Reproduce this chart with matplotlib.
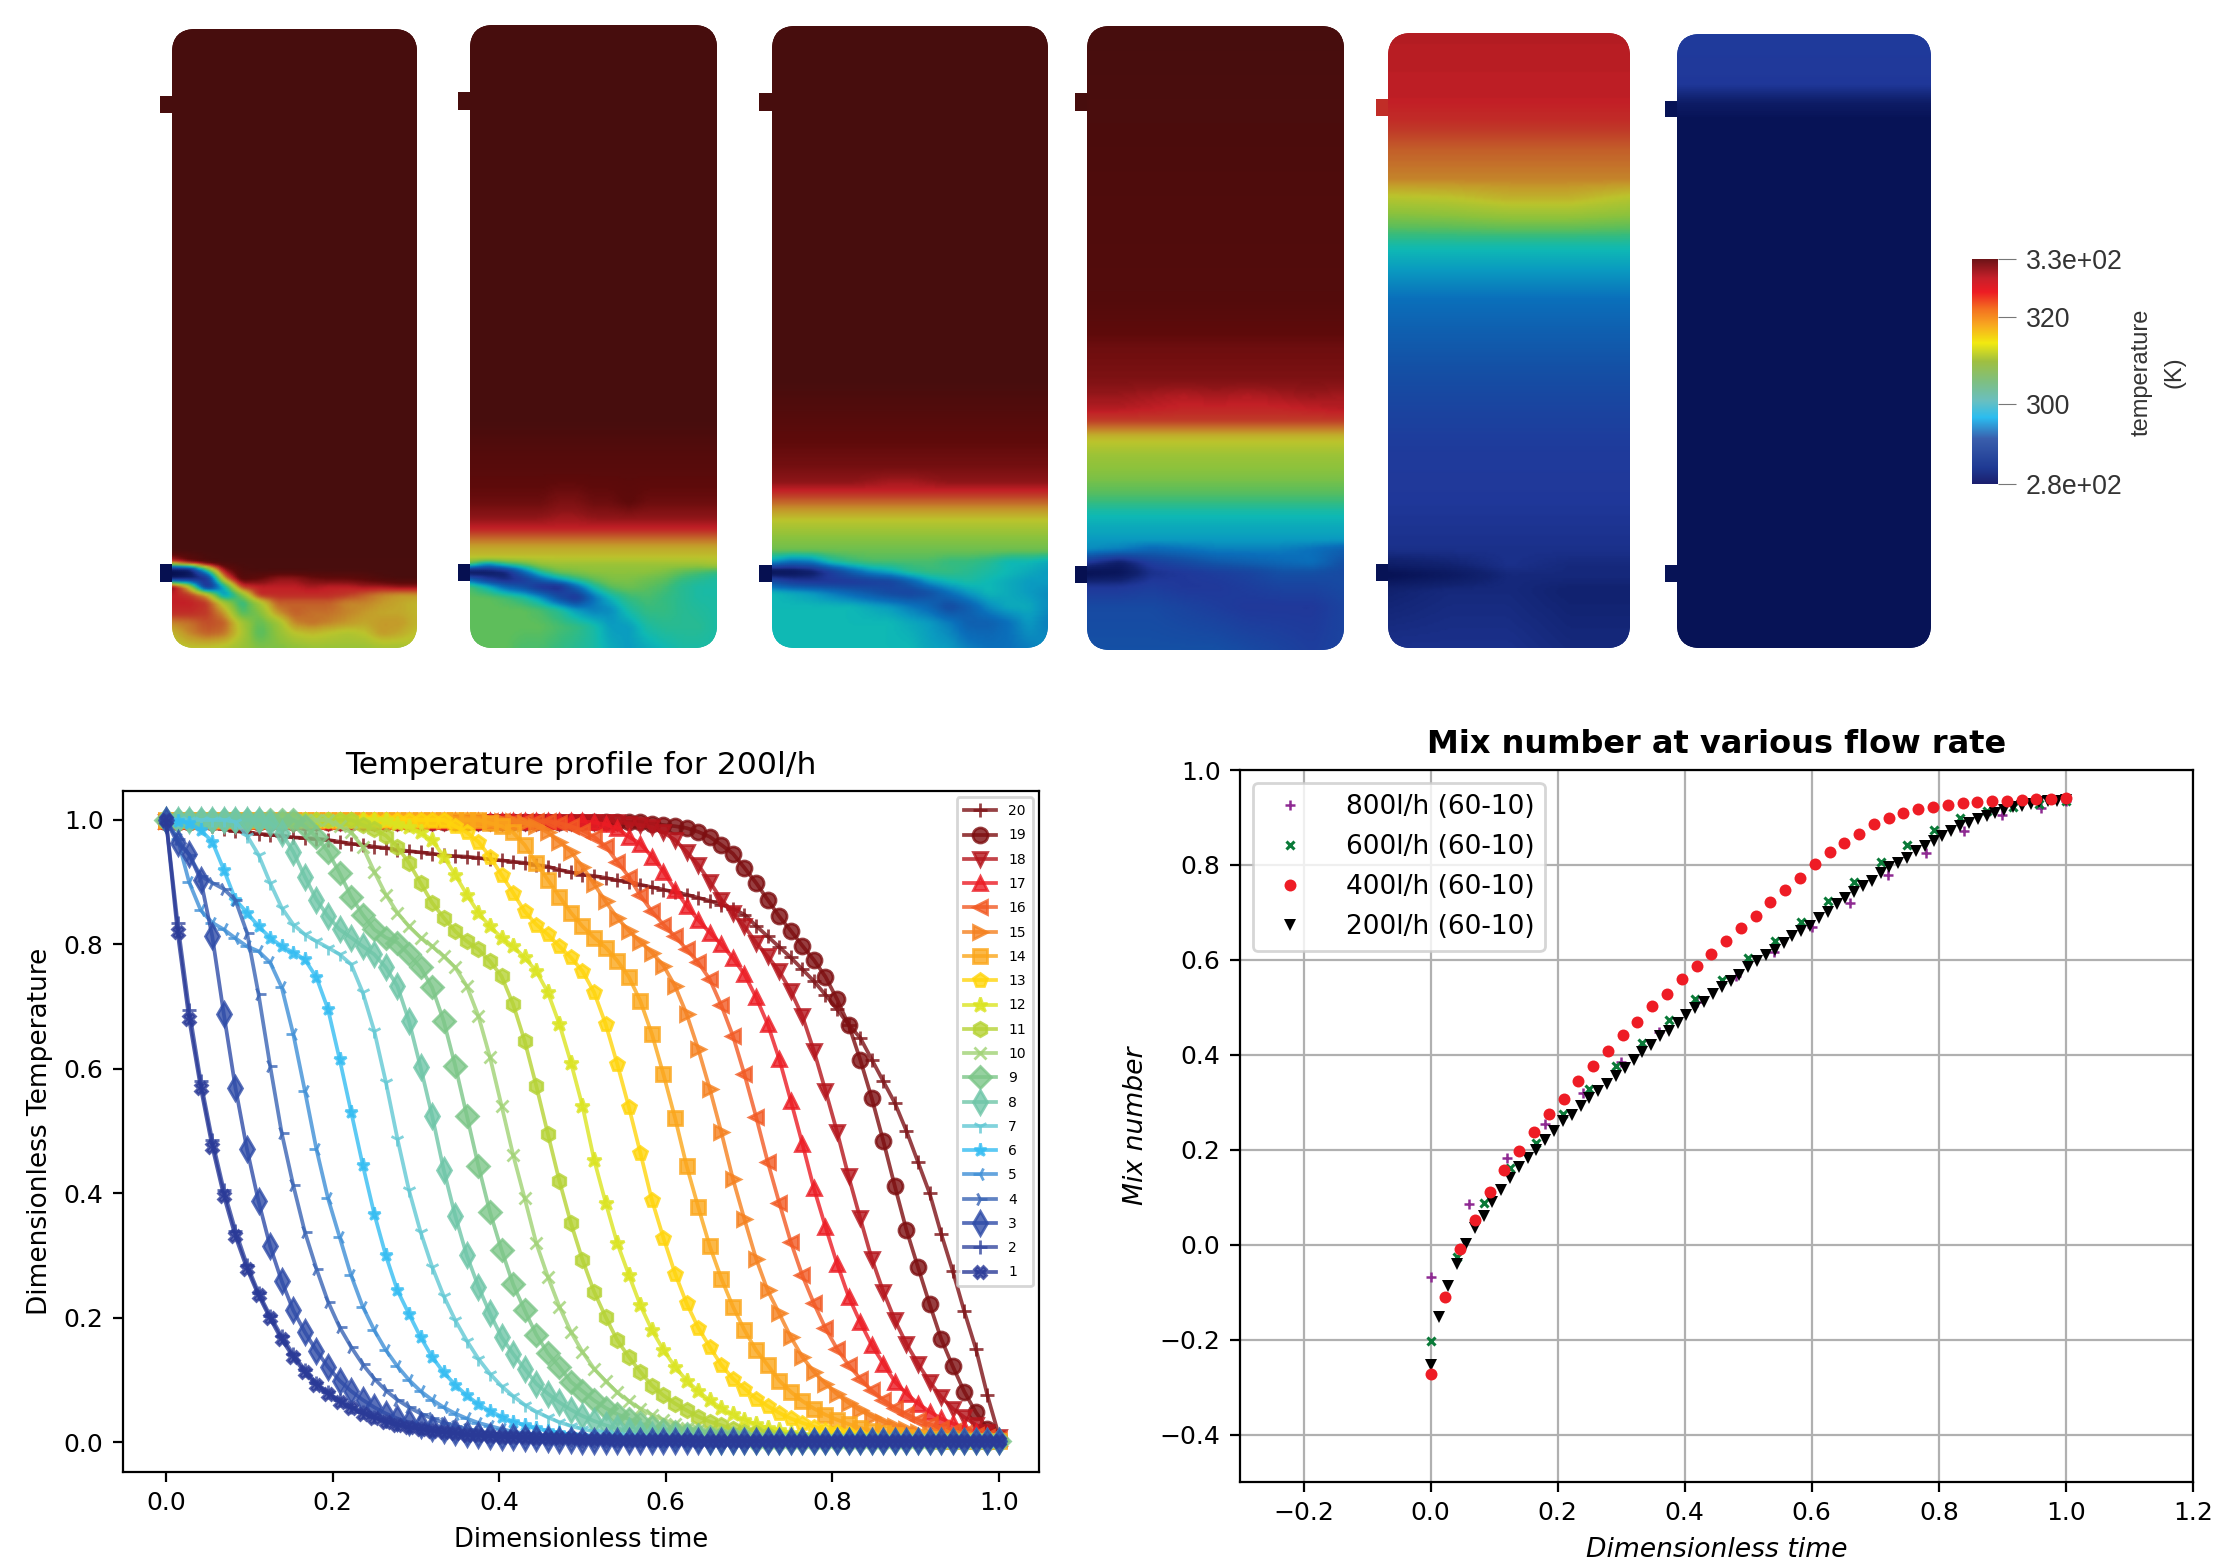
import numpy as np
import matplotlib
matplotlib.use("Agg")
import matplotlib.pyplot as plt
from matplotlib.colors import LinearSegmentedColormap, Normalize
from matplotlib.patches import FancyBboxPatch, Rectangle

W, H = 2214, 1564
DPI = 200

# ---- temperature curves, one value per saved time step (end is padded with the tail value)
c1 = [1.0,.82,.68,.57,.475,.396,.331,.279,.236,.199,.165,.137,.112,.092,.078,.065,.055,.046,.039,.033,.028,.024,.021,.018,.016,.014,.012,.011,.01,.009,.008,.008,.007,.007,.006,.006,.005,.005,.005,.004,.004,.004,.004,.003,.003,.003]
c2 = [1.0,.835,.695,.58,.485,.405,.34,.285,.24,.203,.17,.141,.116,.095,.08,.067,.057,.048,.04,.034,.029,.025,.022,.019,.016,.014,.012,.011,.01,.009,.008,.007,.006,.005,.004,.003]
c3 = [1.0,.963,.945,.904,.813,.688,.57,.471,.387,.315,.259,.212,.177,.147,.121,.099,.082,.068,.056,.046,.038,.032,.027,.022,.019,.016,.013,.011,.01,.009,.008,.007,.006,.005,.004,.003]
c4 = [1.0,.97,.944,.91,.899,.889,.871,.819,.72,.605,.497,.413,.338,.279,.226,.185,.153,.125,.102,.083,.068,.056,.046,.038,.031,.026,.021,.017,.014,.012,.01,.009,.008,.007,.006,.005]
c5 = [1.0,.97,.90,.855,.835,.824,.81,.797,.789,.771,.731,.656,.565,.471,.392,.33,.268,.218,.18,.148,.122,.10,.082,.068,.056,.046,.038,.031,.026,.021,.017,.014,.012,.01,.008,.007,.006,.005]
c6 = [1.0,.998,.995,.984,.965,.92,.872,.851,.829,.811,.797,.787,.776,.747,.696,.616,.531,.446,.367,.30,.244,.206,.169,.137,.112,.092,.075,.061,.05,.041,.033,.027,.022,.018,.015,.012,.01,.008,.007,.006,.005]
c7 = [1.0]*6 + [.997,.975,.944,.899,.859,.832,.816,.805,.795,.784,.768,.723,.661,.579,.488,.405,.338,.282,.235,.196,.163,.134,.11,.09,.074,.06,.049,.04,.032,.026,.021,.017,.014,.012,.01,.008,.007,.006,.005]
c8 = [1.0]*9 + [.995,.979,.949,.909,.872,.845,.824,.811,.797,.784,.763,.733,.677,.603,.525,.438,.364,.30,.25,.207,.169,.142,.118,.094,.078,.064,.052,.042,.034,.027,.022,.018,.014,.012,.01,.008,.006,.005]
c9 = [1.0]*12 + [.99,.973,.949,.915,.877,.848,.824,.811,.803,.784,.763,.731,.677,.605,.525,.444,.37,.309,.254,.212,.173,.143,.121,.097,.082,.067,.055,.045,.037,.03,.024,.02,.016,.013,.011,.009,.007,.006,.005]
c10 = [1.0]*15 + [.99,.98,.957,.917,.88,.851,.829,.811,.797,.781,.763,.733,.685,.619,.541,.462,.392,.32,.266,.218,.177,.145,.118,.098,.08,.066,.054,.044,.036,.029,.023,.019,.015,.012,.01,.008,.006,.005]
c11 = [1.0]*17 + [.992,.985,.975,.957,.931,.899,.867,.843,.821,.805,.792,.773,.749,.704,.645,.573,.496,.42,.352,.293,.242,.201,.164,.137,.113,.091,.075,.062,.051,.041,.033,.027,.021,.017,.014,.011,.009,.007,.005]
c12 = [1.0]*20 + [.993,.988,.98,.968,.941,.912,.88,.851,.829,.811,.797,.779,.757,.723,.672,.61,.54,.454,.385,.32,.269,.22,.18,.148,.121,.099,.082,.067,.055,.045,.036,.029,.023,.019,.015,.012,.01,.008,.006,.005]
c13 = [1.0]*25 + [.99,.98,.965,.941,.912,.883,.853,.832,.816,.797,.779,.757,.723,.672,.608,.539,.465,.389,.328,.271,.223,.184,.153,.124,.102,.086,.07,.058,.047,.038,.031,.025,.02,.016,.013,.01,.008,.006,.005]
c14 = [1.0]*28 + [.995,.99,.98,.96,.931,.904,.877,.851,.829,.811,.795,.774,.748,.709,.656,.591,.521,.444,.378,.315,.263,.218,.18,.148,.124,.099,.081,.066,.054,.044,.036,.029,.023,.018,.014,.011,.008,.006,.005]
c15 = [.998]*31 + [.995,.99,.98,.965,.949,.925,.897,.869,.843,.822,.804,.787,.766,.733,.688,.632,.568,.498,.423,.358,.295,.244,.207,.169,.137,.113,.094,.077,.063,.051,.041,.033,.026,.021,.017,.013,.01,.008,.006,.005]
c16 = [.998]*34 + [.995,.99,.983,.973,.958,.933,.909,.879,.853,.832,.813,.792,.771,.744,.702,.653,.591,.523,.451,.385,.322,.268,.223,.183,.15,.124,.102,.083,.068,.055,.045,.036,.029,.023,.018,.014,.011,.008,.005]
c17 = [.998]*37 + [.996,.993,.987,.973,.962,.941,.917,.888,.862,.839,.819,.80,.778,.752,.715,.672,.616,.549,.48,.408,.346,.287,.234,.193,.156,.126,.097,.078,.062,.049,.038,.03,.023,.017,.011,.006]
c18 = [.997]*40 + [.994,.992,.988,.98,.968,.949,.928,.901,.872,.851,.829,.803,.781,.757,.725,.685,.629,.565,.499,.427,.36,.295,.242,.196,.158,.126,.097,.073,.054,.04,.028,.017,.008]
c19 = [.997]*42 + [.994,.992,.99,.987,.981,.973,.96,.946,.923,.899,.872,.845,.822,.798,.775,.748,.712,.671,.615,.553,.484,.411,.341,.281,.222,.166,.122,.081,.048,.021,.005]
c20 = [1.0,.998,.995,.992,.99,.985,.982,.98,.978,.976,.975,.972,.971,.97,.968,.965,.962,.96,.957,.955,.952,.95,.948,.946,.943,.942,.941,.939,.937,.935,.933,.931,.928,.925,.92,.916,.912,.91,.907,.903,.9,.896,.892,.888,.884,.88,.875,.87,.864,.857,.848,.83,.813,.796,.779,.76,.741,.719,.696,.671,.65,.615,.58,.545,.50,.45,.40,.335,.275,.21,.15,.075,.01]
curves = [c1,c2,c3,c4,c5,c6,c7,c8,c9,c10,c11,c12,c13,c14,c15,c16,c17,c18,c19,c20]
curve_markers = ['X','+','d','4','3','*','1','d','D','x','h','*','p','s','>','<','^','v','o','+']
curve_ms = [4.6,5,6.2,5,5,4.8,5,6.2,5.6,4.6,5.2,5.6,5.2,4.8,5.2,5.2,5.2,5.2,5.4,5]
curve_colors = ['#2a3a97','#34479f','#2f4ca8','#3a64b4','#3f8fd6','#35bdf2','#62c8d4','#6fc6a8','#7cc688','#a0d274',
                '#b6d335','#dbe421','#ffd50c','#fba61a','#f5811f','#f25a24','#ec1c24','#b5151c','#7d0e10','#7d1216']

# ---- mix number series
t200 = np.arange(73) / 72
mix200 = [-.253,-.152,-.088,-.041,.002,.036,.061,.09,.115,.14,.163,.183,.20,.22,.24,.26,.273,.293,.308,.324,.339,.356,.373,.39,.406,.42,.439,.45,.466,.483,.498,.512,.528,.543,.556,.569,.584,.597,.61,.621,.636,.65,.66,.672,.689,.701,.717,.73,.742,.755,.767,.782,.795,.805,.814,.829,.84,.85,.862,.872,.881,.889,.897,.904,.91,.916,.922,.925,.929,.932,.934,.935,.937]
t400 = np.arange(44) / 43
mix400 = [-.272,-.11,-.009,.052,.112,.158,.198,.237,.276,.307,.345,.376,.408,.441,.469,.502,.529,.559,.587,.612,.639,.667,.692,.721,.748,.773,.802,.827,.846,.866,.887,.899,.91,.918,.923,.927,.931,.932,.934,.935,.937,.938,.938,.94]
t600 = np.arange(25) / 24
mix600 = [-.203,-.026,.088,.161,.215,.276,.328,.376,.424,.474,.518,.558,.603,.639,.68,.725,.765,.806,.841,.874,.899,.914,.923,.929,.935]
t800 = [0,.06,.12,.18,.24,.30,.36,.42,.48,.54,.60,.66,.72,.78,.84,.90,.96,1.0]
mix800 = [-.069,.085,.183,.254,.32,.385,.449,.512,.565,.617,.669,.719,.779,.825,.872,.906,.919,.935]

# ---- tank fields: temperature in K on coarse grids, rows are pixel heights, a single number is a flat row
tank_stops = [(281.6,'#050f50'),(286,'#11226f'),(289,'#20389a'),(293,'#1450a5'),(297,'#0a70bb'),(300,'#0a9cc0'),
              (302,'#0eb9b5'),(305,'#35bb80'),(307,'#5fbe5a'),(310,'#8ec23c'),(314,'#bcc42c'),(317,'#c49a2a'),
              (319,'#c4722a'),(322,'#c03a28'),(324,'#c21f26'),(326,'#8e1518'),(329,'#5e0a0a'),(333.3,'#470d0d')]
bar_stops = [(0,'#1b1f6e'),(.07,'#1f3a93'),(.2,'#3a5fad'),(.295,'#2bbdf0'),(.37,'#6ac0c0'),(.457,'#7fbf80'),(.546,'#a0c040'),
             (.627,'#f2ea10'),(.708,'#f8a820'),(.78,'#f47020'),(.855,'#ed1c24'),(.915,'#c8202a'),(1,'#6e1418')]
T_MIN, T_MAX = 281.6, 333.3

t1_box = (172, 29, 417, 648)
t1_y = [29, 550, 562, 570, 578, 587, 595, 603, 613, 623, 633, 648]
t1_rows = [333.3, 333.3,
    [322,328,332,333,333,333,333,333,333,333,333,333,333,333,333],
    [282,284,305,326,332,333,333,333,333,333,333,333,333,333,333],
    [282,284,288,318,331,329,326,326,328,329,329,330,332,333,333],
    [327,314,286,302,322,324,324,324,325,324,324,325,325,326,326],
    [324,322,316,298,309,323,323,323,323,323,322,320,318,317,317],
    [324,324,322,312,304,312,320,320,320,320,318,318,317,316,315],
    [323,323,322,317,306,309,317,320,319,319,318,317,316,316,315],
    [318,319,321,320,312,307,311,318,319,318,317,316,317,317,315],
    [315,318,320,319,313,306,310,314,315,314,313,314,317,316,314],
    [313,314,314,313,311,309,309,310,311,311,311,311,312,312,313]]

t2_box = (470, 25, 717, 648)
t2_y = [25, 420, 450, 470, 503, 520, 528, 537, 548, 558, 565, 572, 580, 587, 598, 610, 627, 648]
t2_rows = [333.3, 333.3, 331, 330,
    [328,328,328,328,328,327,327,328,328,329,328,328,328,328,328],
    [325.5,325.5,325.5,325.5,325.5,325,325,325.5,325.5,325.5,325.5,325.5,325.5,325.5,325.5],
    324, 320, 316, 314,
    [305,298,303,306,310,311,311,311,311,311,311,311,311,311,312],
    [282,284,286,296,304,308,309,310,310,310,310,309,307,306,305],
    [296,290,287,289,295,300,304,307,309,309,308,307,305,304,303],
    [306,302,296,293,288,287,296,303,307,308,307,306,304,303,303],
    [307,307,306,304,300,293,288,297,302,305,306,305,304,303,303],
    [307,307,307,307,306,304,300,298,299,303,305,305,304,303.5,303],
    [307,307,307,307,307,306,305,303,300,300,303,304,304,304,303],
    [307,307,307,306,306,305,304,303,301,300,301,302,303,303,303]]

t3_box = (772, 26, 1048, 648)
t3_y = [26, 380, 440, 467, 482, 490, 498, 507, 520, 537, 550, 562, 572, 582, 593, 607, 623, 648]
t3_rows = [333.3, 333.3, 329, 327.5,
    [326,326,326,326,326,325.5,325,325,325.5,326,326,326,326,326,326],
    324, 321, 318, 314, 310, 308,
    [300,297,298,303,305,306,306,306,306,305,305,304,302,302,301],
    [282,283,285,290,295,299,301,304,305,305,304,303,302,301,300],
    [293,290,289,289,289,290,291,295,300,302,303,302,301,300,300],
    [302,301,300,298,296,294,292,291,293,297,300,302,301,300,299],
    [302,302,302,302,302,301,300,298,296,292,295,299,301,301,299],
    [302,302,302,302,302,302,302,301,300,298,295,295,297,300,298],
    [302,302,302,302,302,302,302,302,300.5,300,298,297,297,298,299]]

t4_box = (1087, 26, 1344, 650)
t4_y = [26, 300, 348, 378, 396, 409, 420, 428, 437, 457, 478, 500, 513, 527, 540, 550, 563, 573, 587, 607, 650]
t4_rows = [333.3, 331, 328, 327,
    [325.5,325.5,325,324.5,325,324.5,325,325.5,325],
    [324.5,324.5,324,323.5,323.5,323.5,323.5,324,324.5],
    322, 319, 315, 311, 309, 305.5, 302.5, 301, 300,
    [299,298,296,297,298,298,298,297,295],
    [289,285,290,292,294,295,296,297,293],
    [282,283,288,289,290,291,293,293,292],
    [289,289,290,289,289,290,291,291,292],
    [292,292,292,291,290,289,289,289,291],
    [293,293,293,293,293,292,291,290,291]]

t5_box = (1388, 33, 1630, 648)
t5_y = [33, 100, 120, 150, 180, 200, 215, 240, 250, 270, 300, 330, 370, 410, 450, 500, 550, 566, 575, 590, 648]
t5_rows = [324.5, 324, 323, 320, 318,
    [313,313.5,315,315,313],
    [309.5,310,311,311,310],
    304, 302, 300, 297, 295, 293, 291, 289.5, 289, 288,
    [285,286,288,287,287],
    [282,284,287,287,287],
    [286,287,287,286,286],
    [288,288,288,287,287]]

t6_box = (1677, 34, 1931, 648)
t6_y = [34, 85, 95, 105, 120, 648]
t6_rows = [289.5, 289, 287, 284.5, 282.5, 282.5]

tank_boxes = [t1_box, t2_box, t3_box, t4_box, t5_box, t6_box]
tank_ys = [t1_y, t2_y, t3_y, t4_y, t5_y, t6_y]
tank_rows = [t1_rows, t2_rows, t3_rows, t4_rows, t5_rows, t6_rows]
# outlet and inlet stubs: left edge, top, bottom, temperature
outlets = [(160,96,113,333.3),(458,92,110,333.3),(759,93,111,333.3),(1075,93,111,333.3),(1376,99,116,323),(1665,101,117,282.5)]
inlets = [(160,564,582,282),(458,564,581,282),(759,565,582,282),(1075,566,583,282),(1376,564,581,282.5),(1665,565,582,282.5)]

bar_ticks = [T_MIN, 300, 320, T_MAX]
bar_labels = ['2.8e+02', '300', '320', '3.3e+02']

plt.rcParams['font.size'] = 9
fig = plt.figure(figsize=(W / DPI, H / DPI), dpi=DPI)

def px_axes(l, t, r, b):
    return fig.add_axes([l / W, 1 - b / H, (r - l) / W, (b - t) / H])

def soften(xs, ys, z):
    # the coarse grid shows its triangles, so resample every 2 px and run a short box blur over it
    fx = np.arange(xs[0], xs[-1] + 2, 2.0)
    fy = np.arange(ys[0], ys[-1] + 2, 2.0)
    rows = np.array([np.interp(fx, xs, row) for row in z])
    fine = np.array([np.interp(fy, ys, col) for col in rows.T]).T
    kx, ky = np.ones(5) / 5, np.ones(3) / 3
    pad = np.pad(fine, ((1, 1), (2, 2)), mode='edge')
    pad = np.apply_along_axis(lambda a: np.convolve(a, kx, mode='same'), 1, pad)
    pad = np.apply_along_axis(lambda a: np.convolve(a, ky, mode='same'), 0, pad)
    return fx, fy, pad[1:-1, 2:-2]

# tanks
tank_cmap = LinearSegmentedColormap.from_list('tank', [((v - T_MIN) / (T_MAX - T_MIN), c) for v, c in tank_stops])
norm = Normalize(T_MIN, T_MAX)
pic = fig.add_axes([0, 0, 1, 1])
pic.set_xlim(0, W)
pic.set_ylim(H, 0)
pic.axis('off')
for box, ys, rows, o, i in zip(tank_boxes, tank_ys, tank_rows, outlets, inlets):
    l, t, r, b = box
    ncol = max(len(row) if isinstance(row, list) else 2 for row in rows)
    z = np.array([row if isinstance(row, list) else [row] * ncol for row in rows], dtype=float)
    fx, fy, fz = soften(np.linspace(l, r, ncol), ys, z)
    for stub in (o, i):
        pic.add_patch(Rectangle((stub[0], stub[1]), l - stub[0] + 2, stub[2] - stub[1], lw=0, fc=tank_cmap(norm(stub[3]))))
    outline = FancyBboxPatch((l, t), r - l, b - t, boxstyle='round,pad=0,rounding_size=24', fc='none', ec='none', lw=0)
    pic.add_patch(outline)
    mesh = pic.pcolormesh(fx, fy, fz, shading='gouraud', cmap=tank_cmap, norm=norm)
    mesh.set_clip_path(outline)

# colour bar
bar_cmap = LinearSegmentedColormap.from_list('bar', bar_stops)
cax = px_axes(1972, 259, 1998, 484)
cax.imshow(np.linspace(1, 0, 256).reshape(-1, 1), cmap=bar_cmap, aspect='auto', extent=(0, 1, T_MIN, T_MAX))
cax.set_xticks([])
cax.yaxis.tick_right()
cax.set_yticks(bar_ticks)
cax.set_yticklabels(bar_labels, family='Liberation Sans', fontsize=9.6, color='#333333')
cax.tick_params(axis='y', length=6.5, width=.4, color='#777777', pad=3.5)
for s in cax.spines.values():
    s.set_visible(False)
fig.text(2158 / W, 1 - 372 / H, 'temperature\n(K)', rotation=90, ha='center', va='center', ma='center',
         family='Liberation Sans', fontsize=8.5, color='#333333', linespacing=1.6)

# temperature profile
ax1 = px_axes(123, 791, 1039, 1472)
time = np.arange(73) / 72
for n in range(19, -1, -1):
    y = curves[n] + [0.002] * (73 - len(curves[n]))
    ax1.plot(time, y, color=curve_colors[n], marker=curve_markers[n], ms=curve_ms[n], lw=1.35, alpha=.8, label=str(n + 1))
ax1.set_xlim(-.0516, 1.048)
ax1.set_ylim(-.048, 1.0466)
ax1.set_xticks(np.arange(0, 1.01, .2))
ax1.set_yticks(np.arange(0, 1.01, .2))
ax1.set_title('Temperature profile for 200l/h', fontsize=11.3)
ax1.set_xlabel('Dimensionless time', fontsize=9.3)
ax1.set_ylabel('Dimensionless Temperature', fontsize=9.5)
ax1.legend(loc='upper right', fontsize=5, labelspacing=.74, handlelength=2.3, borderaxespad=.45, borderpad=.5, handletextpad=.9)

# mix number
ax2 = px_axes(1240, 770, 2193, 1482)
ax2.plot(t800, mix800, ls='none', marker='+', ms=3.6, mew=.9, color='#8e2a92', label='800l/h (60-10)', zorder=3)
ax2.plot(t600, mix600, ls='none', marker='x', ms=3, mew=1.1, color='#0a7a38', label='600l/h (60-10)', zorder=4)
ax2.plot(t400, mix400, ls='none', marker='o', ms=4.3, mew=0, color='#ee1c25', label='400l/h (60-10)', zorder=6)
ax2.plot(t200, mix200, ls='none', marker='v', ms=4.2, mew=0, color='black', label='200l/h (60-10)', zorder=5)
ax2.set_xlim(-.3, 1.2)
ax2.set_ylim(-.5, 1.0)
ax2.set_xticks(np.arange(-.2, 1.21, .2))
ax2.set_yticks(np.arange(-.4, 1.01, .2))
ax2.grid(True)
ax2.set_axisbelow(True)
ax2.set_title('Mix number at various flow rate', fontsize=11.5, fontweight='bold')
ax2.set_xlabel('Dimensionless time', fontsize=9.6, style='italic')
ax2.set_ylabel('Mix number', fontsize=9.6, style='italic')
ax2.legend(loc='upper left', fontsize=9.5, labelspacing=.54, handletextpad=1.1, borderaxespad=.5)

fig.savefig('out.png', dpi=DPI)
